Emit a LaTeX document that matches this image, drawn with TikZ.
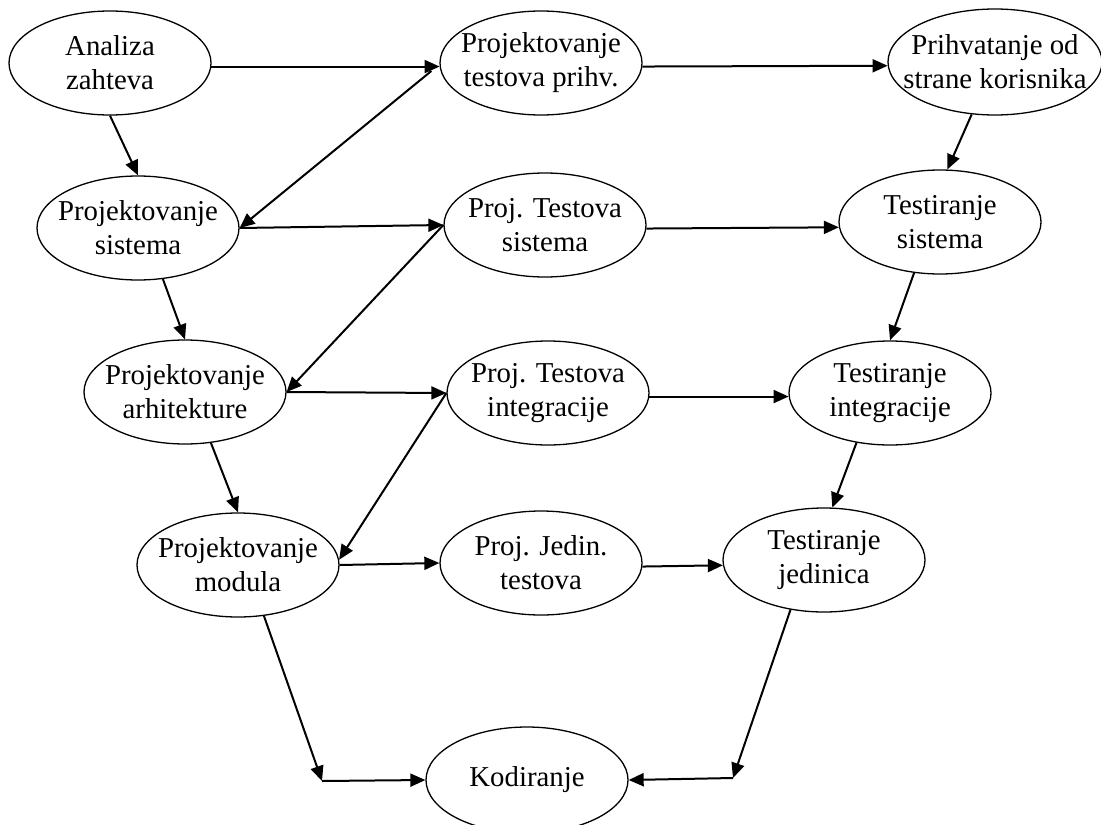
\documentclass[tikz,border=0pt]{standalone}
\usepackage{fontspec}
\setmainfont{Liberation Serif}
\usetikzlibrary{arrows.meta,shapes.geometric}
\begin{document}
\begin{tikzpicture}[x=0.5pt,y=-0.5pt,
  phase/.style={ellipse, draw, line width=0.65pt, minimum width=101pt, minimum height=52pt, inner sep=0pt},
  phasetext/.style={align=center, font=\fontsize{14.4}{17}\selectfont, inner sep=0pt},
  flow/.style={line width=1pt, -{Triangle[length=7.5pt,width=6.5pt]}}]
\useasboundingbox (0,0) rectangle (1101,824);
\node[phase, label={[phasetext]center:Analiza\\zahteva}] (az) at (110,63) {};
\node[phase, label={[phasetext]center:Projektovanje\\testova prihv.}] (ptp) at (541,63) {};
\node[phase, minimum width=107pt, minimum height=53pt, label={[phasetext]center:Prihvatanje od\\strane korisnika}] (pk) at (995,62) {};
\node[phase, label={[phasetext]center:Projektovanje\\sistema}] (ps) at (138,228) {};
\node[phase, label={[phasetext]center:Proj. Testova\\sistema}] (pts) at (545,225) {};
\node[phase, label={[phasetext]center:Testiranje\\sistema}] (ts) at (940,222) {};
\node[phase, label={[phasetext]center:Projektovanje\\arhitekture}] (pa) at (185,392) {};
\node[phase, label={[phasetext]center:Proj. Testova\\integracije}] (pti) at (548,393) {};
\node[phase, label={[phasetext]center:Testiranje\\integracije}] (ti) at (890,393) {};
\node[phase, label={[phasetext]center:Projektovanje\\modula}] (pm) at (238,565) {};
\node[phase, label={[phasetext]center:Proj. Jedin.\\testova}] (pjt) at (541,563) {};
\node[phase, label={[phasetext]center:Testiranje\\jedinica}] (tj) at (824,560) {};
\node[phase, minimum height=53pt, label={[phasetext]center:Kodiranje}] (kod) at (527,780) {};
\coordinate (kl) at (322,781);
\coordinate (kr) at (733,778);
\draw[flow] (az.-2) -- (ptp.182);
\draw[flow] (ptp.-2) -- (pk.182);
\draw[flow] (az.south) -- (ps.north);
\draw[flow] ([xshift=-4pt,yshift=-4pt]ptp.west) -- (ps.east);
\draw[flow] (pk.-114) -- (ts.82);
\draw[flow] (ps.east) -- (pts.west);
\draw[flow] (pts.-2) -- (ts.183);
\draw[flow] (pts.west) -- (pa.east);
\draw[flow] (ps.-64) -- (pa.north);
\draw[flow] (ts.-117) -- (ti.north);
\draw[flow] (pa.east) -- (pti.west);
\draw[flow] (pti.-2) -- (ti.182);
\draw[flow] (pti.west) -- (pm.3);
\draw[flow] (pa.-63) -- (pm.north);
\draw[flow] (ti.-124) -- (tj.81);
\draw[flow] (pm.east) -- (pjt.west);
\draw[flow] (pjt.-2) -- (tj.183);
\draw[flow] (pm.-63) -- (kl);
\draw[flow] (kl) -- (kod.west);
\draw[flow] (tj.-124) -- (kr);
\draw[flow] (kr) -- (kod.east);
\end{tikzpicture}
\end{document}
